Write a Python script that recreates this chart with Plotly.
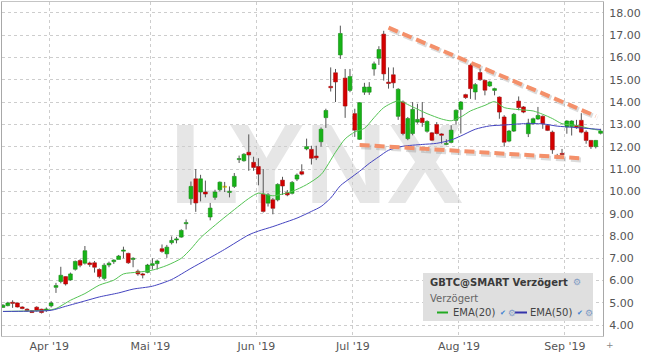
import plotly.graph_objects as go
import pandas as pd

# ---------------- data ----------------
holidays = ["2019-04-19", "2019-05-27", "2019-07-04", "2019-09-02"]
dates = [d.strftime("%Y-%m-%d") for d in pd.bdate_range("2019-03-18", "2019-09-12")
         if d.strftime("%Y-%m-%d") not in holidays]

opens = [4.80, 4.88, 5.02, 5.00, 4.82, 4.72, 4.65, 4.81, 4.72, 4.68,
         4.87, 5.70, 5.96, 6.18, 6.03, 6.51, 6.90, 6.78, 6.79, 6.80,
         6.50, 6.10, 6.70, 6.85, 6.95, 7.32, 7.22, 6.95, 6.42, 6.30,
         6.37, 6.68, 6.76, 7.43, 7.20, 7.70, 7.82, 7.95, 8.55, 9.67,
         10.56, 9.97, 9.97, 8.85, 9.73, 10.07, 10.18, 9.95, 10.22, 11.42,
         11.37, 11.75, 11.30, 11.11, 9.87, 9.47, 9.62, 9.62, 10.50, 9.94,
         9.91, 10.55, 10.88, 11.90, 11.88, 11.58, 12.22, 13.30, 14.70, 15.31,
         16.11, 15.07, 14.52, 13.48, 12.33, 14.44, 14.44, 15.48, 15.96, 17.04,
         14.89, 15.22, 13.36, 14.00, 12.36, 12.59, 13.10, 13.28, 12.69, 12.62,
         12.99, 12.57, 12.10, 12.19, 13.18, 13.67, 14.33, 15.65, 14.45, 15.32,
         14.97, 14.72, 14.52, 14.22, 13.33, 12.25, 12.70, 14.04, 13.78, 12.58,
         13.03, 13.24, 13.36, 12.95, 12.65, 11.50, 11.70, 12.88, 12.90, 12.95,
         13.18, 12.65, 12.28, 12.00, 12.60]
highs = [4.95, 5.05, 5.12, 5.02, 4.85, 4.76, 4.68, 4.85, 4.74, 4.80,
         5.08, 5.90, 6.62, 6.20, 6.36, 6.90, 6.96, 7.55, 6.85, 6.88,
         6.55, 6.78, 6.85, 6.95, 7.15, 7.52, 7.25, 7.05, 6.50, 6.35,
         6.75, 7.00, 6.94, 7.62, 7.60, 7.98, 7.96, 8.30, 8.74, 10.44,
         11.00, 10.74, 10.48, 9.48, 10.07, 10.44, 10.42, 10.22, 10.82, 11.60,
         11.71, 12.55, 11.55, 11.48, 11.00, 9.92, 9.70, 10.36, 10.65, 10.06,
         10.46, 10.80, 11.21, 12.36, 12.04, 12.04, 12.86, 13.70, 15.55, 15.48,
         17.42, 15.48, 15.48, 13.70, 14.00, 14.86, 14.89, 15.81, 16.50, 17.19,
         15.55, 15.55, 14.62, 14.07, 13.33, 14.00, 13.92, 14.00, 13.18, 12.66,
         13.10, 12.60, 12.33, 12.96, 13.67, 14.04, 14.37, 15.72, 14.85, 15.50,
         15.00, 14.95, 14.64, 14.25, 13.41, 12.75, 13.51, 14.25, 13.82, 13.25,
         13.30, 13.78, 13.40, 13.00, 12.72, 11.68, 11.90, 13.18, 13.18, 13.20,
         13.50, 12.73, 12.30, 12.30, 12.80]
lows = [4.78, 4.85, 4.78, 4.80, 4.72, 4.60, 4.55, 4.62, 4.53, 4.60,
        4.80, 5.45, 5.88, 5.78, 6.00, 6.45, 6.60, 6.72, 6.62, 6.36,
        6.10, 6.02, 6.60, 6.75, 6.95, 7.00, 6.75, 6.60, 6.22, 6.10,
        6.33, 6.50, 6.50, 7.25, 7.02, 7.62, 7.67, 7.92, 8.29, 9.40,
        9.08, 9.55, 9.73, 8.70, 9.62, 10.00, 9.97, 9.73, 10.15, 11.27,
        11.33, 10.92, 10.92, 10.27, 9.05, 9.32, 8.97, 9.55, 9.84, 9.78,
        9.86, 10.46, 10.72, 11.84, 11.20, 11.40, 12.00, 12.84, 14.47, 14.00,
        15.93, 13.29, 14.44, 12.44, 12.30, 14.32, 14.32, 15.18, 15.66, 14.96,
        14.60, 14.62, 13.20, 12.51, 12.29, 12.51, 13.03, 12.89, 12.63, 12.25,
        12.55, 12.14, 12.07, 12.15, 12.98, 12.59, 14.14, 14.14, 14.10, 14.95,
        14.30, 14.68, 14.30, 13.25, 12.00, 12.20, 12.66, 13.63, 13.50, 12.43,
        12.98, 13.20, 12.80, 12.70, 11.68, 11.46, 11.60, 12.58, 12.50, 12.80,
        12.60, 12.13, 11.90, 11.92, 12.55]
closes = [4.90, 5.00, 4.98, 4.82, 4.75, 4.66, 4.57, 4.66, 4.57, 4.71,
          5.00, 5.78, 6.24, 5.85, 6.30, 6.86, 6.69, 7.34, 6.72, 6.60,
          6.18, 6.69, 6.78, 6.92, 7.10, 7.37, 6.80, 6.99, 6.30, 6.25,
          6.70, 6.76, 6.88, 7.31, 7.50, 7.80, 7.87, 8.25, 8.60, 10.22,
          9.48, 10.56, 9.88, 9.25, 9.97, 10.41, 10.19, 9.99, 10.67, 11.46,
          11.66, 11.63, 11.07, 10.77, 9.10, 9.84, 9.24, 10.31, 10.24, 9.84,
          10.40, 10.73, 10.77, 12.00, 11.48, 11.50, 12.78, 13.62, 14.64, 14.90,
          17.07, 13.82, 15.14, 12.74, 13.97, 14.67, 14.67, 15.71, 16.35, 15.26,
          14.83, 14.86, 14.57, 12.59, 13.26, 13.67, 13.22, 13.08, 13.13, 12.29,
          12.59, 12.51, 12.14, 12.74, 13.63, 14.00, 14.20, 14.60, 14.78, 15.00,
          14.53, 14.90, 14.60, 13.55, 12.20, 12.70, 13.45, 13.75, 13.55, 13.06,
          13.25, 13.40, 13.03, 12.73, 11.86, 11.56, 11.65, 13.15, 13.15, 12.85,
          12.65, 12.28, 12.00, 12.28, 12.70]

ema20_dates = ["2019-03-18", "2019-03-25", "2019-03-29", "2019-04-02", "2019-04-05",
               "2019-04-10", "2019-04-15", "2019-04-18", "2019-04-23", "2019-04-26",
               "2019-05-01", "2019-05-06", "2019-05-09", "2019-05-13", "2019-05-15",
               "2019-05-21", "2019-05-24", "2019-05-30", "2019-06-03", "2019-06-06",
               "2019-06-12", "2019-06-17", "2019-06-20", "2019-06-25", "2019-06-27",
               "2019-07-01", "2019-07-03", "2019-07-08", "2019-07-10", "2019-07-15",
               "2019-07-18", "2019-07-23", "2019-07-26", "2019-07-30", "2019-08-01",
               "2019-08-05", "2019-08-08", "2019-08-12", "2019-08-14", "2019-08-19",
               "2019-08-22", "2019-08-26", "2019-08-28", "2019-08-30", "2019-09-05",
               "2019-09-10", "2019-09-12"]
ema20_vals = [4.62, 4.64, 4.67, 4.75, 5.12, 5.42, 5.80, 6.02, 6.30, 6.38,
              6.47, 6.68, 7.00, 7.42, 7.92, 8.66, 9.18, 9.68, 9.92, 9.80,
              10.00, 10.30, 10.75, 11.75, 12.35, 12.66, 12.82, 13.30, 13.75, 14.05,
              13.78, 13.48, 13.24, 13.16, 13.33, 13.60, 13.85, 14.02, 13.75, 13.66,
              13.60, 13.45, 13.26, 13.03, 12.95, 12.80, 12.73]

ema50_dates = ["2019-03-18", "2019-03-25", "2019-04-01", "2019-04-04", "2019-04-10",
               "2019-04-15", "2019-04-22", "2019-04-25", "2019-05-01", "2019-05-07",
               "2019-05-13", "2019-05-16", "2019-05-22", "2019-05-30", "2019-06-03",
               "2019-06-06", "2019-06-10", "2019-06-13", "2019-06-18", "2019-06-20",
               "2019-06-24", "2019-06-26", "2019-06-28", "2019-07-02", "2019-07-05",
               "2019-07-09", "2019-07-11", "2019-07-16", "2019-07-22", "2019-07-25",
               "2019-07-30", "2019-08-01", "2019-08-06", "2019-08-09", "2019-08-14",
               "2019-08-20", "2019-08-26", "2019-08-29", "2019-09-04", "2019-09-09",
               "2019-09-12"]
ema50_vals = [4.62, 4.63, 4.67, 4.85, 5.09, 5.27, 5.45, 5.62, 5.75, 6.05,
              6.55, 6.91, 7.40, 8.05, 8.22, 8.42, 8.57, 8.80, 9.10, 9.32,
              9.70, 10.25, 10.58, 10.90, 11.25, 11.55, 11.84, 12.02, 12.10, 12.15,
              12.30, 12.48, 12.78, 12.93, 12.97, 13.03, 13.02, 12.92, 12.87, 12.82,
              12.77]

upper_dates = ["2019-07-11", "2019-09-11"]
upper_vals = [17.33, 13.37]
lower_dates = ["2019-07-02", "2019-09-06"]
lower_vals = [12.08, 11.48]

month_labels = ["Apr '19", "Mai '19", "Jun '19", "Jul '19", "Aug '19", "Sep '19"]
month_keys = ["2019-04", "2019-05", "2019-06", "2019-07", "2019-08", "2019-09"]
y_ticks = [4, 5, 6, 7, 8, 9, 10, 11, 12, 13, 14, 15, 16, 17, 18]

# ---------------- helpers ----------------
pos = {d: i for i, d in enumerate(dates)}
idx = list(range(len(dates)))
FONT = "DejaVu Sans"

GREEN, GREEN_EDGE = "#17b317", "#0d8c0d"
RED, RED_EDGE = "#d40000", "#a10000"
YEL, YEL_EDGE = "#f2e600", "#c9bd00"

tops = [max(o, c) for o, c in zip(opens, closes)]
bots = [min(o, c) for o, c in zip(opens, closes)]
heights = [max(t - b, 0.05) for t, b in zip(tops, bots)]
fills, edges = [], []
for o, c in zip(opens, closes):
    if abs(c - o) < 0.015:
        fills.append(YEL); edges.append(YEL_EDGE)
    elif c >= o:
        fills.append(GREEN); edges.append(GREEN_EDGE)
    else:
        fills.append(RED); edges.append(RED_EDGE)

wx, wy = [], []
for i, h, l, t, b in zip(idx, highs, lows, tops, bots):
    wx += [i, i, None, i, i, None]
    wy += [h, t, None, b, l, None]

fig = go.Figure()

# wicks
fig.add_trace(go.Scatter(x=wx, y=wy, mode="lines", line=dict(color="#555555", width=1),
                         hoverinfo="skip", showlegend=False))
# bodies
fig.add_trace(go.Bar(x=idx, y=heights, base=bots, width=0.78,
                     marker=dict(color=fills, line=dict(color=edges, width=0.6)),
                     hoverinfo="skip", showlegend=False))
# EMAs
fig.add_trace(go.Scatter(x=[pos[d] for d in ema20_dates], y=ema20_vals, mode="lines",
                         line=dict(color="#55c455", width=1, shape="spline", smoothing=0.7),
                         hoverinfo="skip", showlegend=False))
fig.add_trace(go.Scatter(x=[pos[d] for d in ema50_dates], y=ema50_vals, mode="lines",
                         line=dict(color="#4444c0", width=1, shape="spline", smoothing=0.7),
                         hoverinfo="skip", showlegend=False))

# trend lines (with soft shadow)
for dts, vals in [(upper_dates, upper_vals), (lower_dates, lower_vals)]:
    xs = [pos[d] for d in dts]
    fig.add_trace(go.Scatter(x=[x + 0.35 for x in xs], y=[v - 0.08 for v in vals], mode="lines",
                             line=dict(color="rgba(90,90,90,0.22)", width=5, dash="10px,5px"),
                             hoverinfo="skip", showlegend=False))
    fig.add_trace(go.Scatter(x=xs, y=vals, mode="lines",
                             line=dict(color="#f4906a", width=4, dash="10px,5px"),
                             hoverinfo="skip", showlegend=False))

# month ticks (gridline just before first trading day of each month)
tickvals = []
for k in month_keys:
    first = min(i for i, d in enumerate(dates) if d.startswith(k))
    tickvals.append(first - 0.4)

# watermark
fig.add_shape(type="rect", xref="x", yref="y", x0=pos["2019-05-15"], x1=pos["2019-07-24"],
              y0=9.65, y1=13.85, line=dict(width=0), fillcolor="rgba(0,0,0,0)", layer="below",
              label=dict(text="<b>LYNX</b>", textposition="middle center",
                         font=dict(family="Liberation Sans, Arial, sans-serif",
                                   size=114, color="#e6e6e6")))

# legend box
def px2x(px):
    return (px - 2) / 601.0

def px2y(py):
    return 1 - (py - 2) / 334.0

fig.add_shape(type="rect", xref="paper", yref="paper", x0=px2x(423), x1=px2x(593),
              y0=px2y(321), y1=px2y(273), fillcolor="#dfdfdf", line=dict(width=0), layer="above")
fig.add_shape(type="line", xref="paper", yref="paper", x0=px2x(437), x1=px2x(448),
              y0=px2y(312.5), y1=px2y(312.5), line=dict(color="#22aa22", width=2))
fig.add_shape(type="line", xref="paper", yref="paper", x0=px2x(515), x1=px2x(527),
              y0=px2y(312.5), y1=px2y(312.5), line=dict(color="#3333aa", width=2))

def ann(text, px, py, size=10, color="#444", xanchor="left"):
    fig.add_annotation(text=text, xref="paper", yref="paper", x=px2x(px), y=px2y(py),
                       xanchor=xanchor, yanchor="middle", showarrow=False,
                       font=dict(family=FONT, size=size, color=color))

ann("<b>GBTC@SMART Verzögert</b>", 428, 282, 10, "#3a3a3a")
ann("⚙", 571, 282, 9, "#7f9cc4")
ann("Verzögert", 428, 298, 10, "#666666")
ann("EMA(20)", 451, 312.5, 10, "#444444")
ann("✔", 498, 313, 7, "#3d7fd0")
ann("⚙", 506, 312.5, 9, "#7f9cc4")
ann("EMA(50)", 528, 312.5, 10, "#444444")
ann("✔", 575, 313, 7, "#3d7fd0")
ann("⚙", 583, 312.5, 9, "#7f9cc4")
ann("+", 604, 345, 9, "#888888")

fig.update_layout(
    width=645, height=358,
    margin=dict(l=2, r=42, t=2, b=22, autoexpand=False),
    paper_bgcolor="white", plot_bgcolor="white",
    showlegend=False, barmode="overlay",
    font=dict(family=FONT, size=11, color="#555555"),
    xaxis=dict(range=[-0.2, 124.5], tickvals=tickvals, ticktext=month_labels,
               showgrid=True, gridcolor="#cdcdcd", griddash="dot", gridwidth=1,
               showline=True, linecolor="#c4c4c4", mirror=True, zeroline=False,
               ticks="", tickfont=dict(family=FONT, size=11, color="#555555"),
               automargin=False, fixedrange=True),
    yaxis=dict(range=[3.52, 18.48], side="right", tickvals=y_ticks, tickformat=".2f",
               showgrid=True, gridcolor="#cdcdcd", griddash="dot", gridwidth=1,
               showline=True, linecolor="#a8a8a8", mirror=True, zeroline=False,
               ticks="", ticklabelstandoff=3, automargin=False,
               tickfont=dict(family=FONT, size=11, color="#555555"), fixedrange=True),
)

fig.write_html("out.html", config={"displayModeBar": False, "staticPlot": True},
               post_script="document.body.style.margin='0px';document.body.style.overflow='hidden';")
